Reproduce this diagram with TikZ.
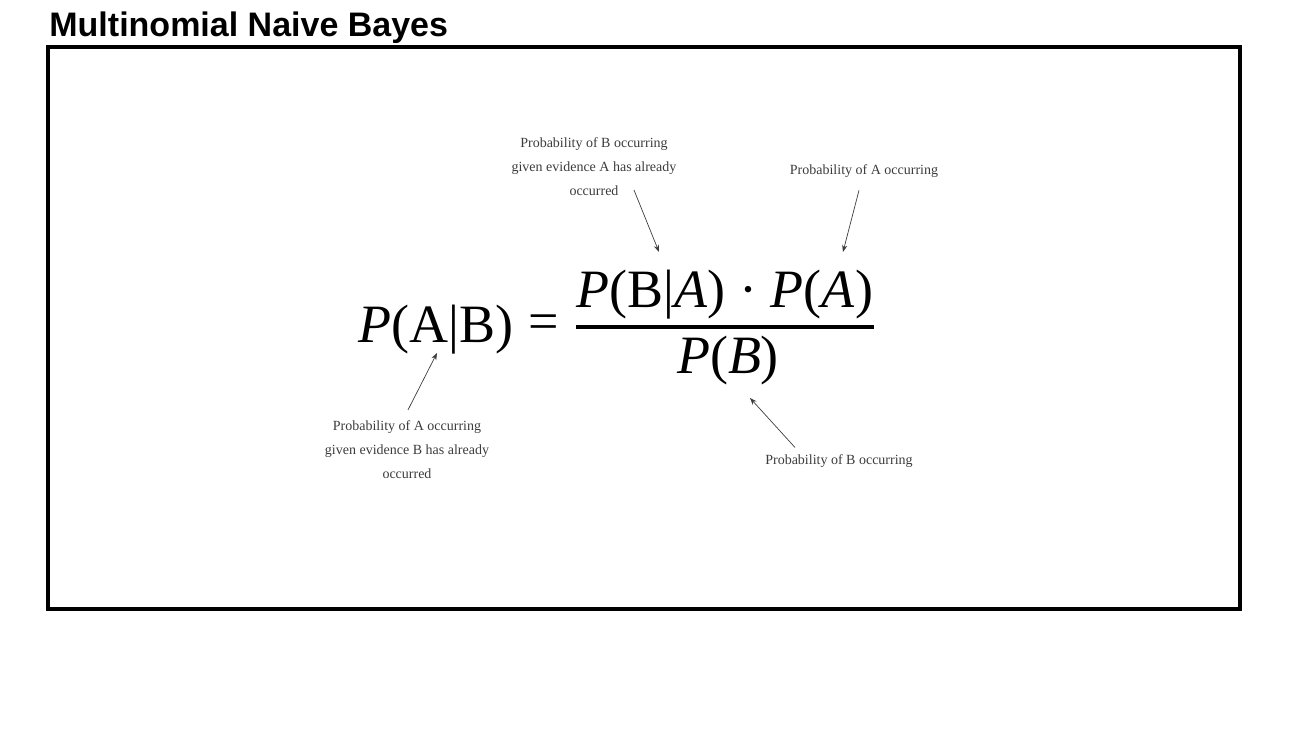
\documentclass[tikz,border=0pt]{standalone}
\usepackage{fontspec}
\setmainfont{Liberation Serif}
\newfontfamily\titlefont{Liberation Sans}
\usepackage{xcolor}
\definecolor{notegray}{HTML}{3c3c3c}
\usetikzlibrary{arrows.meta, calc}

\begin{document}
\begin{tikzpicture}[
  x=0.5pt, y=0.5pt,
  note/.style={align=center, font=\fontsize{7}{12}\selectfont, text=notegray},
  pointer/.style={draw=notegray, line width=0.35pt,
    -{Stealth[length=3.5pt, width=2.6pt]}},
  formula/.style={inner sep=0pt, font=\fontsize{27}{32}\selectfont}
]
\useasboundingbox (0,0) rectangle (1298,731);

% Title and frame
\node[anchor=base west, inner sep=0pt, font=\titlefont\bfseries\fontsize{17}{20}\selectfont]
  (title) at (49,694) {Multinomial Naive Bayes};
\draw[line width=2pt] (48,684) rectangle (1240,122);

% Bayes rule
\node[formula, anchor=base west] (lhs) at (358,388) {\textit{P}(A|B)};
\node[formula] (eqsign) at (544,404) {=};
\node[formula, anchor=base] (num) at (725,423) {\textit{P}(B|\textit{A}) · \textit{P}(\textit{A})};
\node[formula, anchor=base] (den) at (728,357) {\textit{P}(\textit{B})};
\draw[line width=1.75pt] (576,404) -- (874,404);

% Arrow targets
\coordinate (likely) at (659,479);
\coordinate (prior) at (843,479);
\coordinate (post) at (437,378);
\coordinate (evid) at (750,333);

% Notes
\node[note] (likelynote) at (594,564) {Probability of B occurring\\given evidence A has already\\occurred};
\node[note] (priornote) at (864,560) {Probability of A occurring};
\node[note] (postnote) at (407,281) {Probability of A occurring\\given evidence B has already\\occurred};
\node[note] (evidnote) at (839,270) {Probability of B occurring};

% Pointers
\draw[pointer] ($(likelynote.south)+(40,13)$) -- (likely);
\draw[pointer, shorten <=3pt] (priornote) -- (prior);
\draw[pointer] ($(postnote.north)+(1,4)$) -- (post);
\draw[pointer] ($(evidnote.north)+(-44,0)$) -- (evid);
\end{tikzpicture}
\end{document}
